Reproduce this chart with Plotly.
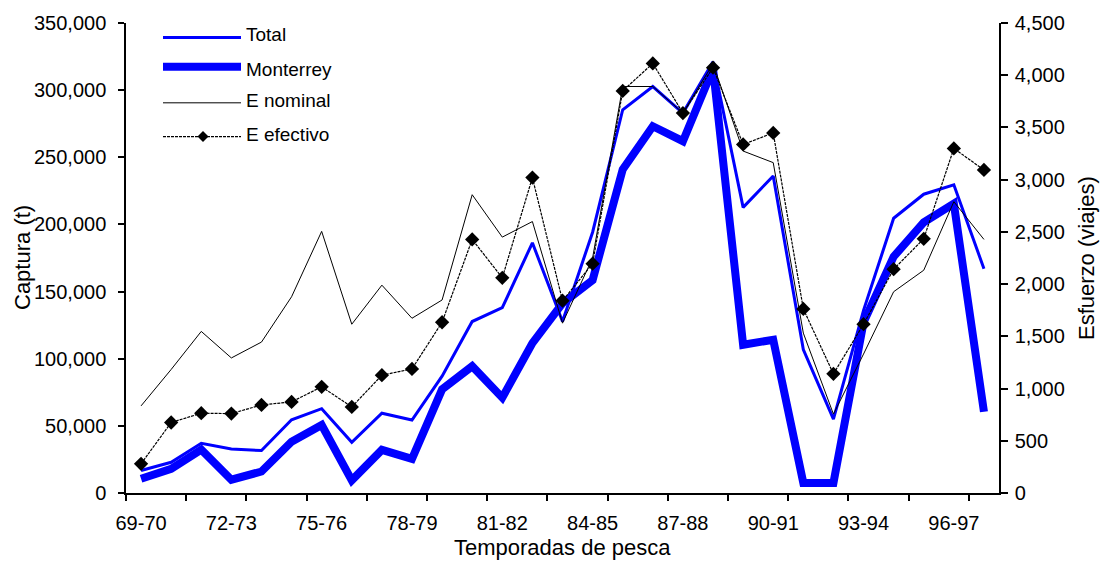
import plotly.graph_objects as go

# Fishing seasons (category axis)
seasons = ["69-70", "70-71", "71-72", "72-73", "73-74", "74-75", "75-76", "76-77",
           "77-78", "78-79", "79-80", "80-81", "81-82", "82-83", "83-84", "84-85",
           "85-86", "86-87", "87-88", "88-89", "89-90", "90-91", "91-92", "92-93",
           "93-94", "94-95", "95-96", "96-97", "97-98"]

# Catch (t), left axis
total = [16800, 22900, 37000, 32800, 31600, 54500, 62800, 37700, 59400, 54300,
         87000, 127700, 138000, 186300, 127700, 194200, 285400, 302700, 282900, 321100,
         212700, 236100, 106800, 55000, 136000, 204600, 222500, 229500, 167000]
monterrey = [10600, 18000, 32300, 9900, 16000, 38200, 50600, 9400, 32100, 25400,
             77200, 94400, 71000, 111600, 141200, 158500, 241000, 273100, 262000, 316000,
             110400, 114100, 7500, 7500, 127000, 176000, 201600, 215500, 60500]

# Effort (trips), right axis
e_nominal = [834, 1183, 1547, 1293, 1445, 1879, 2505, 1616, 1990, 1673,
             1848, 2856, 2450, 2599, 1626, 2250, 3892, 3892, 3638, 4110,
             3274, 3163, 1531, 755, 1330, 1927, 2133, 2789, 2428]
e_efectivo = [279, 675, 764, 760, 843, 872, 1017, 824, 1128, 1188,
              1635, 2428, 2060, 3020, 1841, 2196, 3850, 4113, 3638, 4072,
              3337, 3448, 1762, 1141, 1616, 2143, 2434, 3299, 3093]

legend_names = ["Total", "Monterrey", "E nominal", "E efectivo"]

FONT = "Liberation Sans, Arial, sans-serif"
W, H = 1109, 564
ML, MR, MT, MB = 126, 110, 19, 71
PW, PH = W - ML - MR, H - MT - MB

def px(x):
    return (x - ML) / PW

def py(y):
    return (H - MB - y) / PH

xs = list(range(len(seasons)))

fig = go.Figure()
fig.add_trace(go.Scatter(x=xs, y=e_nominal, yaxis="y2", mode="lines",
                         line=dict(color="black", width=1), name=legend_names[2]))
fig.add_trace(go.Scatter(x=xs, y=e_efectivo, yaxis="y2", mode="lines+markers",
                         line=dict(color="black", width=1.2, dash="3px,1px"),
                         marker=dict(symbol="diamond", size=11, color="black"),
                         name=legend_names[3]))
fig.add_trace(go.Scatter(x=xs, y=total, mode="lines",
                         line=dict(color="#0000ff", width=3), name=legend_names[0]))
fig.add_trace(go.Scatter(x=xs, y=monterrey, mode="lines",
                         line=dict(color="#0000ff", width=8), name=legend_names[1]))

# Hand-drawn legend in the upper-left corner
shapes = []
annotations = []
leg_rows = [
    (legend_names[0], 33.5, 31, dict(color="#0000ff", width=3)),
    (legend_names[1], 63, 66, dict(color="#0000ff", width=8)),
    (legend_names[2], 99.5, 97.5, dict(color="black", width=1)),
    (legend_names[3], 133.5, 131, dict(color="black", width=1.2, dash="3px,1px")),
]
for name, ly, ty, ln in leg_rows:
    shapes.append(dict(type="line", xref="paper", yref="paper",
                       x0=px(163), x1=px(241), y0=py(ly), y1=py(ly), line=ln, layer="above"))
    annotations.append(dict(text=name, xref="paper", yref="paper", x=px(244), y=py(ty),
                            xanchor="left", yanchor="middle", showarrow=False,
                            font=dict(family=FONT, size=19, color="black")))
cx, cy, r = 203, 133.5, 5.5
shapes.append(dict(type="path", xref="paper", yref="paper", fillcolor="black",
                   line=dict(color="black", width=0), layer="above",
                   path=f"M{px(cx - r)},{py(cy)} L{px(cx)},{py(cy - r)} "
                        f"L{px(cx + r)},{py(cy)} L{px(cx)},{py(cy + r)} Z"))

# Axis titles
annotations.append(dict(text="Captura (t)", xref="paper", yref="paper", x=px(22), y=0.5,
                        textangle=-90, showarrow=False, xanchor="center", yanchor="middle",
                        font=dict(family=FONT, size=22, color="black")))
annotations.append(dict(text="Esfuerzo (viajes)", xref="paper", yref="paper", x=px(1086), y=0.5,
                        textangle=-90, showarrow=False, xanchor="center", yanchor="middle",
                        font=dict(family=FONT, size=22, color="black")))
annotations.append(dict(text="Temporadas de pesca", xref="paper", yref="paper", x=0.5, y=py(548),
                        showarrow=False, xanchor="center", yanchor="middle",
                        font=dict(family=FONT, size=22, color="black")))

label_idx = list(range(0, len(seasons), 3))
fig.update_layout(
    width=W, height=H,
    margin=dict(l=ML, r=MR, t=MT, b=MB, pad=0),
    paper_bgcolor="white", plot_bgcolor="white",
    showlegend=False,
    font=dict(family=FONT, size=20, color="black"),
    xaxis=dict(range=[-0.5, len(seasons) - 0.5], tickmode="array",
               tickvals=label_idx, ticktext=[seasons[i] for i in label_idx],
               ticks="", showgrid=False, zeroline=False, showline=True,
               linecolor="black", linewidth=1.5, ticklabelstandoff=11,
               minor=dict(tickmode="array",
                          tickvals=[i - 0.5 for i in range(0, len(seasons), 2)],
                          ticks="outside", ticklen=6, tickwidth=1.5, tickcolor="black",
                          showgrid=False)),
    yaxis=dict(range=[0, 350000], dtick=50000, tickformat=",d", ticks="outside",
               ticklen=6, tickwidth=1.5, tickcolor="black", showgrid=False,
               zeroline=False, showline=True, linecolor="black", linewidth=1.5,
               ticklabelstandoff=8),
    yaxis2=dict(range=[0, 4500], dtick=500, tickformat=",d", ticks="outside",
                ticklen=7, tickwidth=1.5, tickcolor="black", showgrid=False,
                zeroline=False, showline=True, linecolor="black", linewidth=1.5,
                overlaying="y", side="right", ticklabelstandoff=3),
    shapes=shapes,
    annotations=annotations,
)

fig.write_html("out.html")
